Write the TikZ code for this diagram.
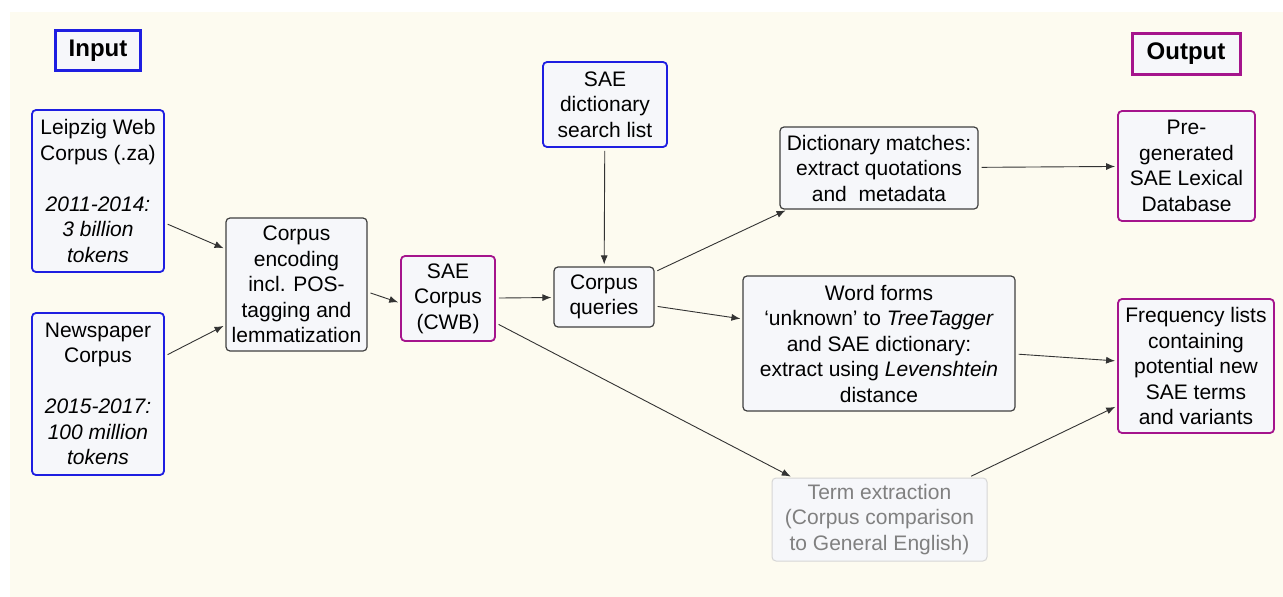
\documentclass[tikz,border=0pt]{standalone}
\usepackage{fontspec}
\setmainfont{Liberation Sans}
\usetikzlibrary{arrows.meta}
\definecolor{cream}{RGB}{253,251,240}
\definecolor{boxfill}{RGB}{246,247,250}
\definecolor{inblue}{RGB}{30,30,225}
\definecolor{outpurple}{RGB}{165,20,140}
\definecolor{termborder}{RGB}{214,214,214}
\definecolor{termtext}{RGB}{128,128,128}
\tikzstyle{process} = [rectangle, rounded corners=4pt, draw=black!75, line width=1.2pt, fill=boxfill, align=center, inner sep=2pt, font=\fontsize{21}{25.5}\selectfont]
\tikzstyle{input} = [process, draw=inblue, line width=1.8pt]
\tikzstyle{output} = [process, draw=outpurple, line width=1.8pt]
\tikzstyle{faded} = [process, draw=termborder, line width=1pt, text=termtext]
\tikzstyle{title} = [rectangle, line width=3pt, fill=boxfill, font=\fontsize{24}{28}\bfseries\selectfont]
\tikzstyle{arrow} = [-{Latex[length=9pt,width=7pt]}, line width=0.9pt, draw=black!80, shorten <=3pt, shorten >=2pt]

\begin{document}
\begin{tikzpicture}[x=1pt, y=1pt, node distance=150pt]
	% background and nodes
	\useasboundingbox (0,0) rectangle (1283,-597);
	\fill[cream] (10,-12) rectangle (1283,-597);
	\node (LW) [input, minimum width=132pt, minimum height=162pt] at (98,-191) {Leipzig Web\\Corpus (.za)\\[25.5pt]\textit{2011-2014:}\\\textit{3 billion}\\\textit{tokens}};
	\node (NP) [input, below of=LW, yshift=-53pt, minimum width=132pt, minimum height=162pt] {Newspaper\\Corpus\\[25.5pt]\textit{2015-2017:}\\\textit{100 million}\\\textit{tokens}};
	\node (In) [title, draw=inblue, above of=LW, yshift=-9.5pt, minimum width=85pt, minimum height=40pt] {Input};
	\node (ENC) [process, right of=LW, xshift=48.5pt, yshift=-93.5pt, minimum width=141pt, minimum height=133pt] {Corpus\\encoding\\incl. POS-\\tagging and\\lemmatization};
	\node (SC) [output, right of=ENC, xshift=1.5pt, yshift=-14pt, minimum width=94pt, minimum height=85pt] {SAE\\Corpus\\(CWB)};
	\node (CQ) [process, right of=SC, xshift=6pt, yshift=1.5pt, minimum width=100pt, minimum height=60pt] {Corpus\\queries};
	\node (DL) [input, above of=CQ, xshift=1pt, yshift=42.5pt, minimum width=124pt, minimum height=85pt] {SAE\\dictionary\\search list};
	\node (WF) [process, right of=CQ, xshift=125pt, yshift=-46.5pt, minimum width=272pt, minimum height=135pt] {Word forms\\‘unknown’ to \textit{TreeTagger}\\and SAE dictionary:\\extract using \textit{Levenshtein}\\distance};
	\node (DM) [process, above of=WF, yshift=25.5pt, minimum width=198pt, minimum height=82pt] {Dictionary matches:\\extract quotations\\and~~metadata};
	\node (TE) [faded, below of=WF, xshift=0.5pt, yshift=-26pt, minimum width=215pt, minimum height=83pt] {Term extraction\\(Corpus comparison\\to General English)};
	\node (PG) [output, right of=DM, xshift=157.5pt, yshift=2pt, minimum width=137pt, minimum height=110pt] {Pre-\\generated\\SAE Lexical\\Database};
	\node (FL) [output, right of=WF, xshift=167pt, yshift=-22.5pt, minimum width=156pt, minimum height=134pt] {Frequency lists\\containing\\potential new\\SAE terms\\and variants};
	\node (Out) [title, draw=outpurple, above of=PG, xshift=-0.5pt, yshift=-37.5pt, minimum width=108pt, minimum height=41pt] {Output};
	% connectors
	\draw [arrow] ([yshift=-32pt]LW.east) -- ([yshift=35.5pt]ENC.west);
	\draw [arrow] ([yshift=38pt]NP.east) -- ([yshift=-40.5pt]ENC.west);
	\draw [arrow] ([yshift=-7.5pt]ENC.east) -- ([yshift=-4.5pt]SC.west);
	\draw [arrow] (SC) -- (CQ);
	\draw [arrow] (DL) -- (CQ);
	\draw [arrow] ([yshift=25pt]CQ.east) -- ([xshift=8pt]DM.south west);
	\draw [arrow] ([yshift=-9pt]CQ.east) -- ([yshift=24.5pt]WF.west);
	\draw [arrow] (DM) -- (PG);
	\draw [arrow] ([yshift=-10.5pt]WF.east) -- ([yshift=5pt]FL.west);
	\draw [arrow] ([xshift=-19pt]TE.north east) -- ([yshift=-40pt]FL.west);
	\draw [arrow] ([yshift=-24.5pt]SC.east) -- ([xshift=21pt]TE.north west);
\end{tikzpicture}
\end{document}
